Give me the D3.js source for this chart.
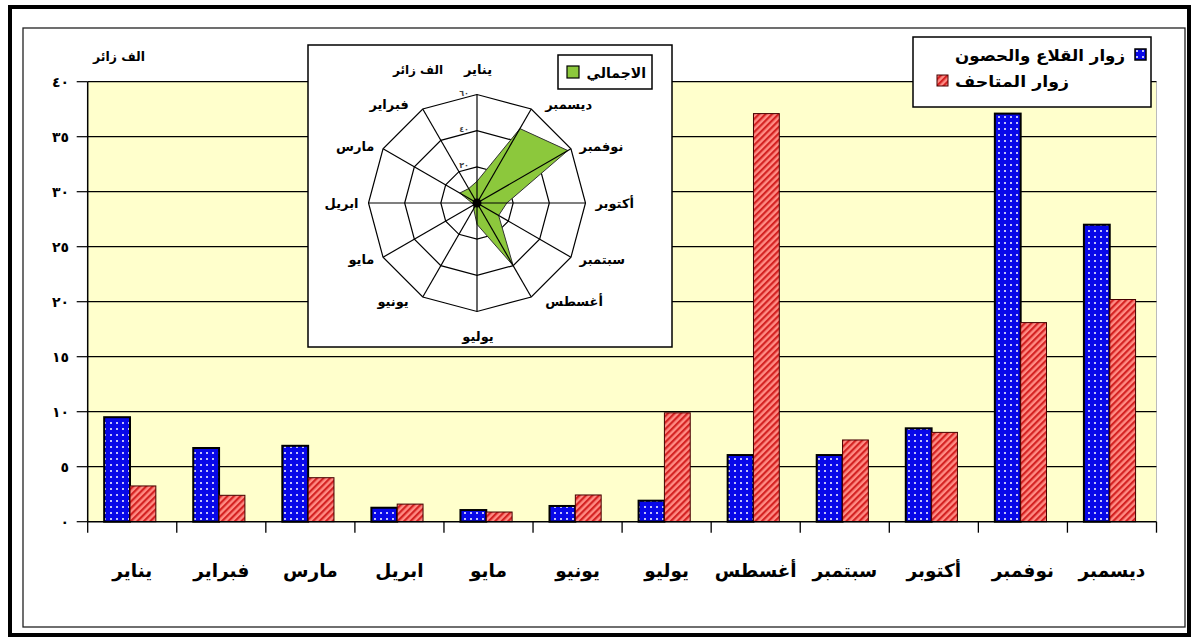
<!DOCTYPE html>
<html><head><meta charset="utf-8">
<script src="https://cdn.jsdelivr.net/npm/d3@7"></script>
<style>
body{margin:0;background:#fff}
text{font-family:'DejaVu Sans',sans-serif;font-weight:bold;fill:#000}
</style>
</head><body><svg id="c" width="1194" height="641"></svg>
<script>
// ---------- data ----------
const months = ["يناير","فبراير","مارس","ابريل","مايو","يونيو","يوليو","أغسطس","سبتمبر","أكتوبر","نوفمبر","ديسمبر"];
const seriesNames = ["زوار القلاع والحصون","زوار المتاحف"];
const castles = [9.5, 6.7, 6.9, 1.27, 1.06, 1.43, 1.91, 6.06, 6.06, 8.49, 37.1, 27.0];
const museums = [3.25, 2.4, 4.0, 1.6, 0.88, 2.43, 9.9, 37.1, 7.43, 8.12, 18.1, 20.2];
const totalName = "الاجمالي";
const totals = [12, 9.2, 11, 2.7, 2, 3.7, 11.8, 40, 13.8, 16.5, 58, 47.5];
const unitLabel = "الف زائر";
const yTicks = [0,5,10,15,20,25,30,35,40];
const yTickLabels = ["٠","٥","١٠","١٥","٢٠","٢٥","٣٠","٣٥","٤٠"];
const radarTicks = [20,40,60];
const radarTickLabels = ["٢٠","٤٠","٦٠"];

// ---------- setup ----------
const svg = d3.select("#c");
const defs = svg.append("defs");
const pb = defs.append("pattern").attr("id","dots").attr("width",6).attr("height",6).attr("patternUnits","userSpaceOnUse");
pb.append("rect").attr("width",6).attr("height",6).attr("fill","#0808e8");
pb.append("circle").attr("cx",3).attr("cy",3).attr("r",1).attr("fill","#fff");
const pr = defs.append("pattern").attr("id","stripes").attr("width",4.6).attr("height",4.6)
  .attr("patternUnits","userSpaceOnUse").attr("patternTransform","rotate(45)");
pr.append("rect").attr("width",4.6).attr("height",4.6).attr("fill","#ff8c84");
pr.append("rect").attr("width",2.2).attr("height",4.6).attr("fill","#d42222");

// frames
svg.append("rect").attr("x",10).attr("y",7).attr("width",1179).attr("height",628)
  .attr("fill","#fff").attr("stroke","#000").attr("stroke-width",4);
svg.append("rect").attr("x",23).attr("y",28).attr("width",1162).attr("height",599)
  .attr("fill","#fff").attr("stroke","#222").attr("stroke-width",1.3);

// ---------- bar chart ----------
const L = 87.7, R = 1156.5, T = 81.7, B = 521.7;
const x = d3.scaleBand().domain(months).range([L, R]);
const bw = x.bandwidth();
const xs = d3.scaleBand().domain(seriesNames).range([bw*0.185, bw*0.765]);
const y = d3.scaleLinear().domain([0,40]).range([B, T]);

svg.append("rect").attr("x",L).attr("y",T).attr("width",R-L).attr("height",B-T).attr("fill","#ffffcc");
svg.append("line").attr("x1",R).attr("x2",R).attr("y1",T).attr("y2",B).attr("stroke","#bbb");

// gridlines + y ticks
svg.append("g").selectAll("line").data(yTicks.filter(d=>d>0)).join("line")
  .attr("x1",L).attr("x2",R).attr("y1",d=>y(d)).attr("y2",d=>y(d))
  .attr("stroke","#000").attr("stroke-width",1.2);
svg.append("g").selectAll("line").data(yTicks).join("line")
  .attr("x1",L-11).attr("x2",L).attr("y1",d=>y(d)).attr("y2",d=>y(d))
  .attr("stroke","#000").attr("stroke-width",1.2);
svg.append("g").selectAll("text").data(yTicks).join("text")
  .attr("x",69).attr("y",d=>y(d)).attr("dy","0.35em").attr("text-anchor","end")
  .attr("font-size",14).attr("letter-spacing",6)
  .text((d,i)=>yTickLabels[i]);
svg.append("text").attr("x",119).attr("y",61).attr("text-anchor","middle").attr("font-size",12.5).text(unitLabel);

// bars
const series = [castles, museums];
const fills = ["url(#dots)","url(#stripes)"];
const strokes = [["#000",2],["#400",1]];
series.forEach((vals, si)=>{
  svg.append("g").selectAll("rect").data(vals).join("rect")
    .attr("x",(d,i)=>x(months[i]) + xs(seriesNames[si]))
    .attr("width",xs.bandwidth())
    .attr("y",d=>y(d)).attr("height",d=>B-y(d))
    .attr("fill",fills[si]).attr("stroke",strokes[si][0]).attr("stroke-width",strokes[si][1]);
});

// x axis
svg.append("line").attr("x1",L).attr("x2",R).attr("y1",B).attr("y2",B).attr("stroke","#000").attr("stroke-width",1.5);
svg.append("line").attr("x1",L).attr("x2",L).attr("y1",T).attr("y2",B).attr("stroke","#000").attr("stroke-width",1.5);
const bounds = months.map(m=>x(m)).concat([R]);
svg.append("g").selectAll("line").data(bounds).join("line")
  .attr("x1",d=>d).attr("x2",d=>d).attr("y1",B).attr("y2",B+11).attr("stroke","#000").attr("stroke-width",1.3);
svg.append("g").selectAll("text").data(months).join("text")
  .attr("x",d=>x(d)+bw/2).attr("y",577).attr("text-anchor","middle").attr("font-size",18.5).text(d=>d);

// main legend
const lg = svg.append("g");
lg.append("rect").attr("x",913).attr("y",37).attr("width",238).attr("height",70).attr("fill","#fff").attr("stroke","#000").attr("stroke-width",1.5);
lg.append("text").attr("x",955).attr("y",61).attr("font-size",16)
  .attr("textLength",170).attr("lengthAdjust","spacingAndGlyphs").text(seriesNames[0]);
lg.append("rect").attr("x",1135).attr("y",49).attr("width",11).attr("height",11).attr("fill",fills[0]).attr("stroke","#000").attr("stroke-width",1.5);
lg.append("rect").attr("x",937).attr("y",75).attr("width",11).attr("height",11).attr("fill",fills[1]).attr("stroke","#400").attr("stroke-width",1);
lg.append("text").attr("x",955).attr("y",87).attr("font-size",16)
  .attr("textLength",114).attr("lengthAdjust","spacingAndGlyphs").text(seriesNames[1]);

// ---------- radar ----------
const cx = 477, cy = 203, RR = 108.5;
svg.append("rect").attr("x",308).attr("y",45).attr("width",364).attr("height",302)
  .attr("fill","#fff").attr("stroke","#000").attr("stroke-width",1.5);
const r = d3.scaleLinear().domain([0,60]).range([0,RR]);
const ang = i => -i*2*Math.PI/12;
const g = svg.append("g").attr("transform",`translate(${cx},${cy})`);
const ringLine = d3.lineRadial().curve(d3.curveLinearClosed);
radarTicks.forEach(t=>{
  g.append("path").attr("d", ringLine(months.map((m,i)=>[ang(i), r(t)])))
   .attr("fill","none").attr("stroke","#000").attr("stroke-width",1.2);
});
g.append("path").attr("d", d3.lineRadial().angle((d,i)=>ang(i)).radius(d=>r(d)).curve(d3.curveLinearClosed)(totals))
  .attr("fill","#8cc83c").attr("stroke","#333").attr("stroke-width",1);
g.selectAll("line.sp").data(months).join("line")
  .attr("x1",0).attr("y1",0)
  .attr("x2",(d,i)=>r(60)*Math.sin(ang(i))).attr("y2",(d,i)=>-r(60)*Math.cos(ang(i)))
  .attr("stroke","#000").attr("stroke-width",1.2);
g.append("circle").attr("r",4.5).attr("fill","#000");
g.selectAll("text.rt").data(radarTicks).join("text")
  .attr("x",-13).attr("y",d=>-r(d)+1).attr("text-anchor","middle").attr("font-size",8)
  .style("fill","#444").text((d,i)=>radarTickLabels[i]);
// month labels around radar
g.selectAll("text.ml").data(months).join("text")
  .attr("font-size",13).text(d=>d)
  .each(function(d,i){
    const a = ang(i), s = Math.sin(a), c = Math.cos(a);
    const t = d3.select(this);
    if (Math.abs(s) < 0.01) {
      t.attr("x", 1).attr("y", -(RR+25)*c).attr("dy","0.35em").attr("text-anchor","middle");
    } else {
      const extra = Math.abs(c) > 0.8 ? 9 : 0;
      t.attr("x", (RR+10)*s + Math.sign(s)*extra).attr("y", -(RR+5)*c).attr("dy","0.35em")
       .attr("text-anchor", s > 0 ? "start" : "end");
    }
  });
g.append("text").attr("x",-59).attr("y",-(RR+25)).attr("dy","0.35em").attr("text-anchor","middle").attr("font-size",12).text(unitLabel);
// radar legend
svg.append("rect").attr("x",558).attr("y",55).attr("width",94).attr("height",34).attr("fill","#fff").attr("stroke","#000").attr("stroke-width",1.5);
svg.append("rect").attr("x",567).attr("y",66).attr("width",12).attr("height",12).attr("fill","#8cc83c").attr("stroke","#000").attr("stroke-width",1.2);
svg.append("text").attr("x",646).attr("y",78).attr("text-anchor","end").attr("font-size",14).text(totalName);
</script>
</body></html>
